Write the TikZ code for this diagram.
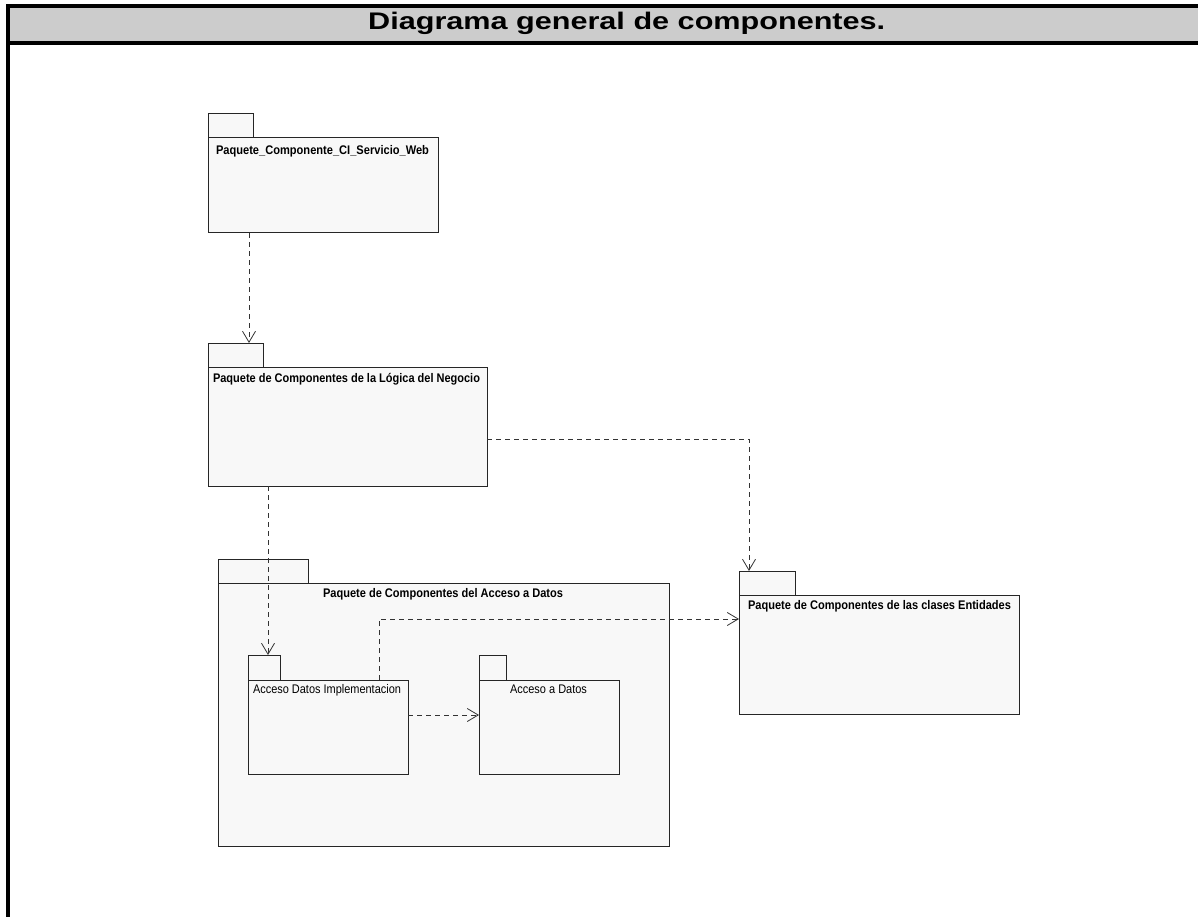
\documentclass[tikz,border=0pt]{standalone}
\usepackage{fontspec}
\setmainfont{Liberation Sans}
\usetikzlibrary{arrows.meta,calc}
\definecolor{band}{HTML}{CCCCCC}
\definecolor{pkgfill}{HTML}{F8F8F8}
% set a label to an exact width, keeping its natural height
\newcommand{\fitw}[2]{\resizebox{#1}{\height}{#2}}

\begin{document}
\begin{tikzpicture}[x=1pt,y=-1pt,
  pkgbody/.style={draw=black!85, line width=1pt, fill=pkgfill, inner sep=0pt, outer sep=0pt, anchor=north west},
  pkgtab/.style={pkgbody, anchor=south west},
  dep/.style={draw=black!80, line width=0.8pt, dash pattern=on 5pt off 4pt,
    -{Straight Barb[length=11pt,width=13pt,line width=0.8pt]}},
  lbl/.style={anchor=base west, inner sep=0pt, outer sep=0pt, font=\fontsize{12.5}{14}\selectfont\bfseries},
  lbln/.style={lbl, font=\fontsize{12.5}{14}\selectfont}
]
\useasboundingbox (0,0) rectangle (1198,917);

% frame and title band
\fill[band] (8,6) rectangle (1198,43);
\draw[line width=4pt] (1198,6) -- (8,6) -- (8,917);
\draw[line width=4pt] (8,43) -- (1198,43);
\node[anchor=base west, inner sep=0pt, font=\fontsize{24}{28}\selectfont\bfseries] (title) at (368,30)
  {\fitw{517pt}{Diagrama general de componentes.}};

% web service package
\node[pkgbody, minimum width=230pt, minimum height=95pt] (web) at (208,138) {};
\node[pkgtab, minimum width=45pt, minimum height=24pt] (webtab) at (web.north west) {};
\node[lbl] (weblbl) at (216,155) {\fitw{213pt}{Paquete\_Componente\_CI\_Servicio\_Web}};

% business logic package
\node[pkgbody, minimum width=279pt, minimum height=119pt] (log) at (208,367) {};
\node[pkgtab, minimum width=55pt, minimum height=24pt] (logtab) at (log.north west) {};
\node[lbl] (loglbl) at (213,382) {\fitw{267pt}{Paquete de Componentes de la Lógica del Negocio}};

% data access package
\node[pkgbody, minimum width=451pt, minimum height=263pt] (dat) at (218,583) {};
\node[pkgtab, minimum width=90pt, minimum height=24pt] (dattab) at (dat.north west) {};
\node[lbl] (datlbl) at (323,597) {\fitw{240pt}{Paquete de Componentes del Acceso a Datos}};

% nested packages
\node[pkgbody, minimum width=160pt, minimum height=94pt] (impl) at (248,680) {};
\node[pkgtab, minimum width=32pt, minimum height=25pt] (impltab) at (impl.north west) {};
\node[lbln] (impllbl) at (253,693) {\fitw{148pt}{Acceso Datos Implementacion}};

\node[pkgbody, minimum width=140pt, minimum height=94pt] (acc) at (479,680) {};
\node[pkgtab, minimum width=27pt, minimum height=25pt] (acctab) at (acc.north west) {};
\node[lbln] (acclbl) at (510,693) {\fitw{77pt}{Acceso a Datos}};

% entities package
\node[pkgbody, minimum width=280pt, minimum height=119pt] (ent) at (739,595) {};
\node[pkgtab, minimum width=56pt, minimum height=24pt] (enttab) at (ent.north west) {};
\node[lbl] (entlbl) at (748,609) {\fitw{263pt}{Paquete de Componentes de las clases Entidades}};

% dependencies
\coordinate (w1) at ($(web.south west)+(41,0)$);
\draw[dep] (w1) -- (w1 |- logtab.north);

\coordinate (l1) at ($(log.south west)+(60,0)$);
\draw[dep] (l1) -- (l1 |- impltab.north);

\coordinate (l2) at ($(log.north east)+(0,72)$);
\coordinate (e1) at ($(ent.north west)+(10,0)$);
\draw[dep] (l2) -| (e1 |- enttab.north);

\coordinate (i1) at ($(impl.north west)+(131,0)$);
\coordinate (e2) at ($(ent.north west)+(0,24)$);
\draw[dep] (i1) |- (e2);

\coordinate (i2) at ($(impl.north east)+(0,35)$);
\draw[dep] (i2) -- (i2 -| acc.west);
\end{tikzpicture}
\end{document}
